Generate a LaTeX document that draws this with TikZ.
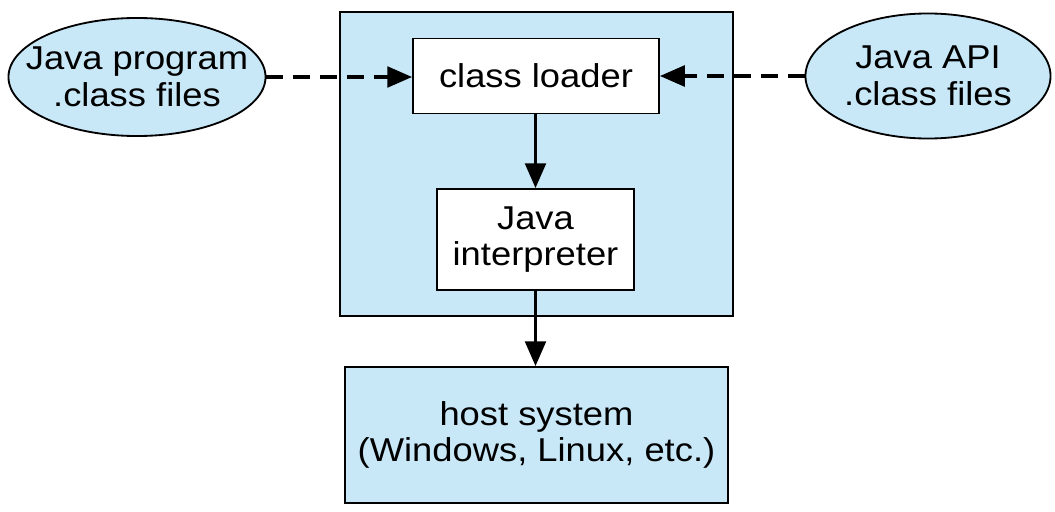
\documentclass[tikz,border=0pt]{standalone}
\usepackage{fontspec}
\setmainfont{Liberation Sans}[FakeStretch=1.1]
\usepackage{tikz}
\usetikzlibrary{arrows.meta,shapes.geometric}
\definecolor{jvmblue}{RGB}{200,232,248}
\tikzset{
    box/.style={draw, line width=1.3pt, rectangle, align=center, inner sep=0pt},
    filebubble/.style={draw, line width=1.3pt, ellipse, fill=jvmblue, inner sep=0pt},
    flow/.style={line width=2.2pt, -{Triangle[length=0.62cm,width=0.52cm]}},
    loadflow/.style={flow, dash pattern=on 0.42cm off 0.25cm}
}
\begin{document}
\begin{tikzpicture}[x=0.025cm, y=-0.025cm, font=\fontsize{23.5}{26}\selectfont]
            \useasboundingbox[fill=white] (0,0) rectangle (1055,512);
            \node[box, fill=jvmblue, minimum width=9.825cm, minimum height=7.6cm] (jvm) at (536.5,164){};
            \node[box, fill=white, minimum width=6.15cm, minimum height=1.875cm] (loader) at (536,76){class loader};
            \node[box, fill=white, minimum width=4.925cm, minimum height=2.525cm] (interp) at (535.5,239.5){Java\\interpreter};
            \node[box, fill=jvmblue, minimum width=9.575cm, minimum height=3.4cm] (host) at (536.5,435){host system\\(Windows, Linux, etc.)};
            % the bubbles, text set on top so it does not widen them
            \node[filebubble, minimum width=6.425cm, minimum height=2.95cm] (prog) at (137,77){};
            \node[align=center] (progtext) at (prog.center){Java program\\.class files};
            \node[filebubble, minimum width=6.125cm, minimum height=3.125cm] (api) at (928,76){};
            \node[align=center] (apitext) at (api.center){Java API\\.class files};
            \draw[loadflow] (prog.east) -- (prog.east -| loader.west);
            \draw[loadflow] (api.west) -- (api.west -| loader.east);
            \draw[flow] (loader.south -| interp.north) -- (interp.north);
            \draw[flow] (interp.south) -- (interp.south |- host.north);
        \end{tikzpicture}
\end{document}
